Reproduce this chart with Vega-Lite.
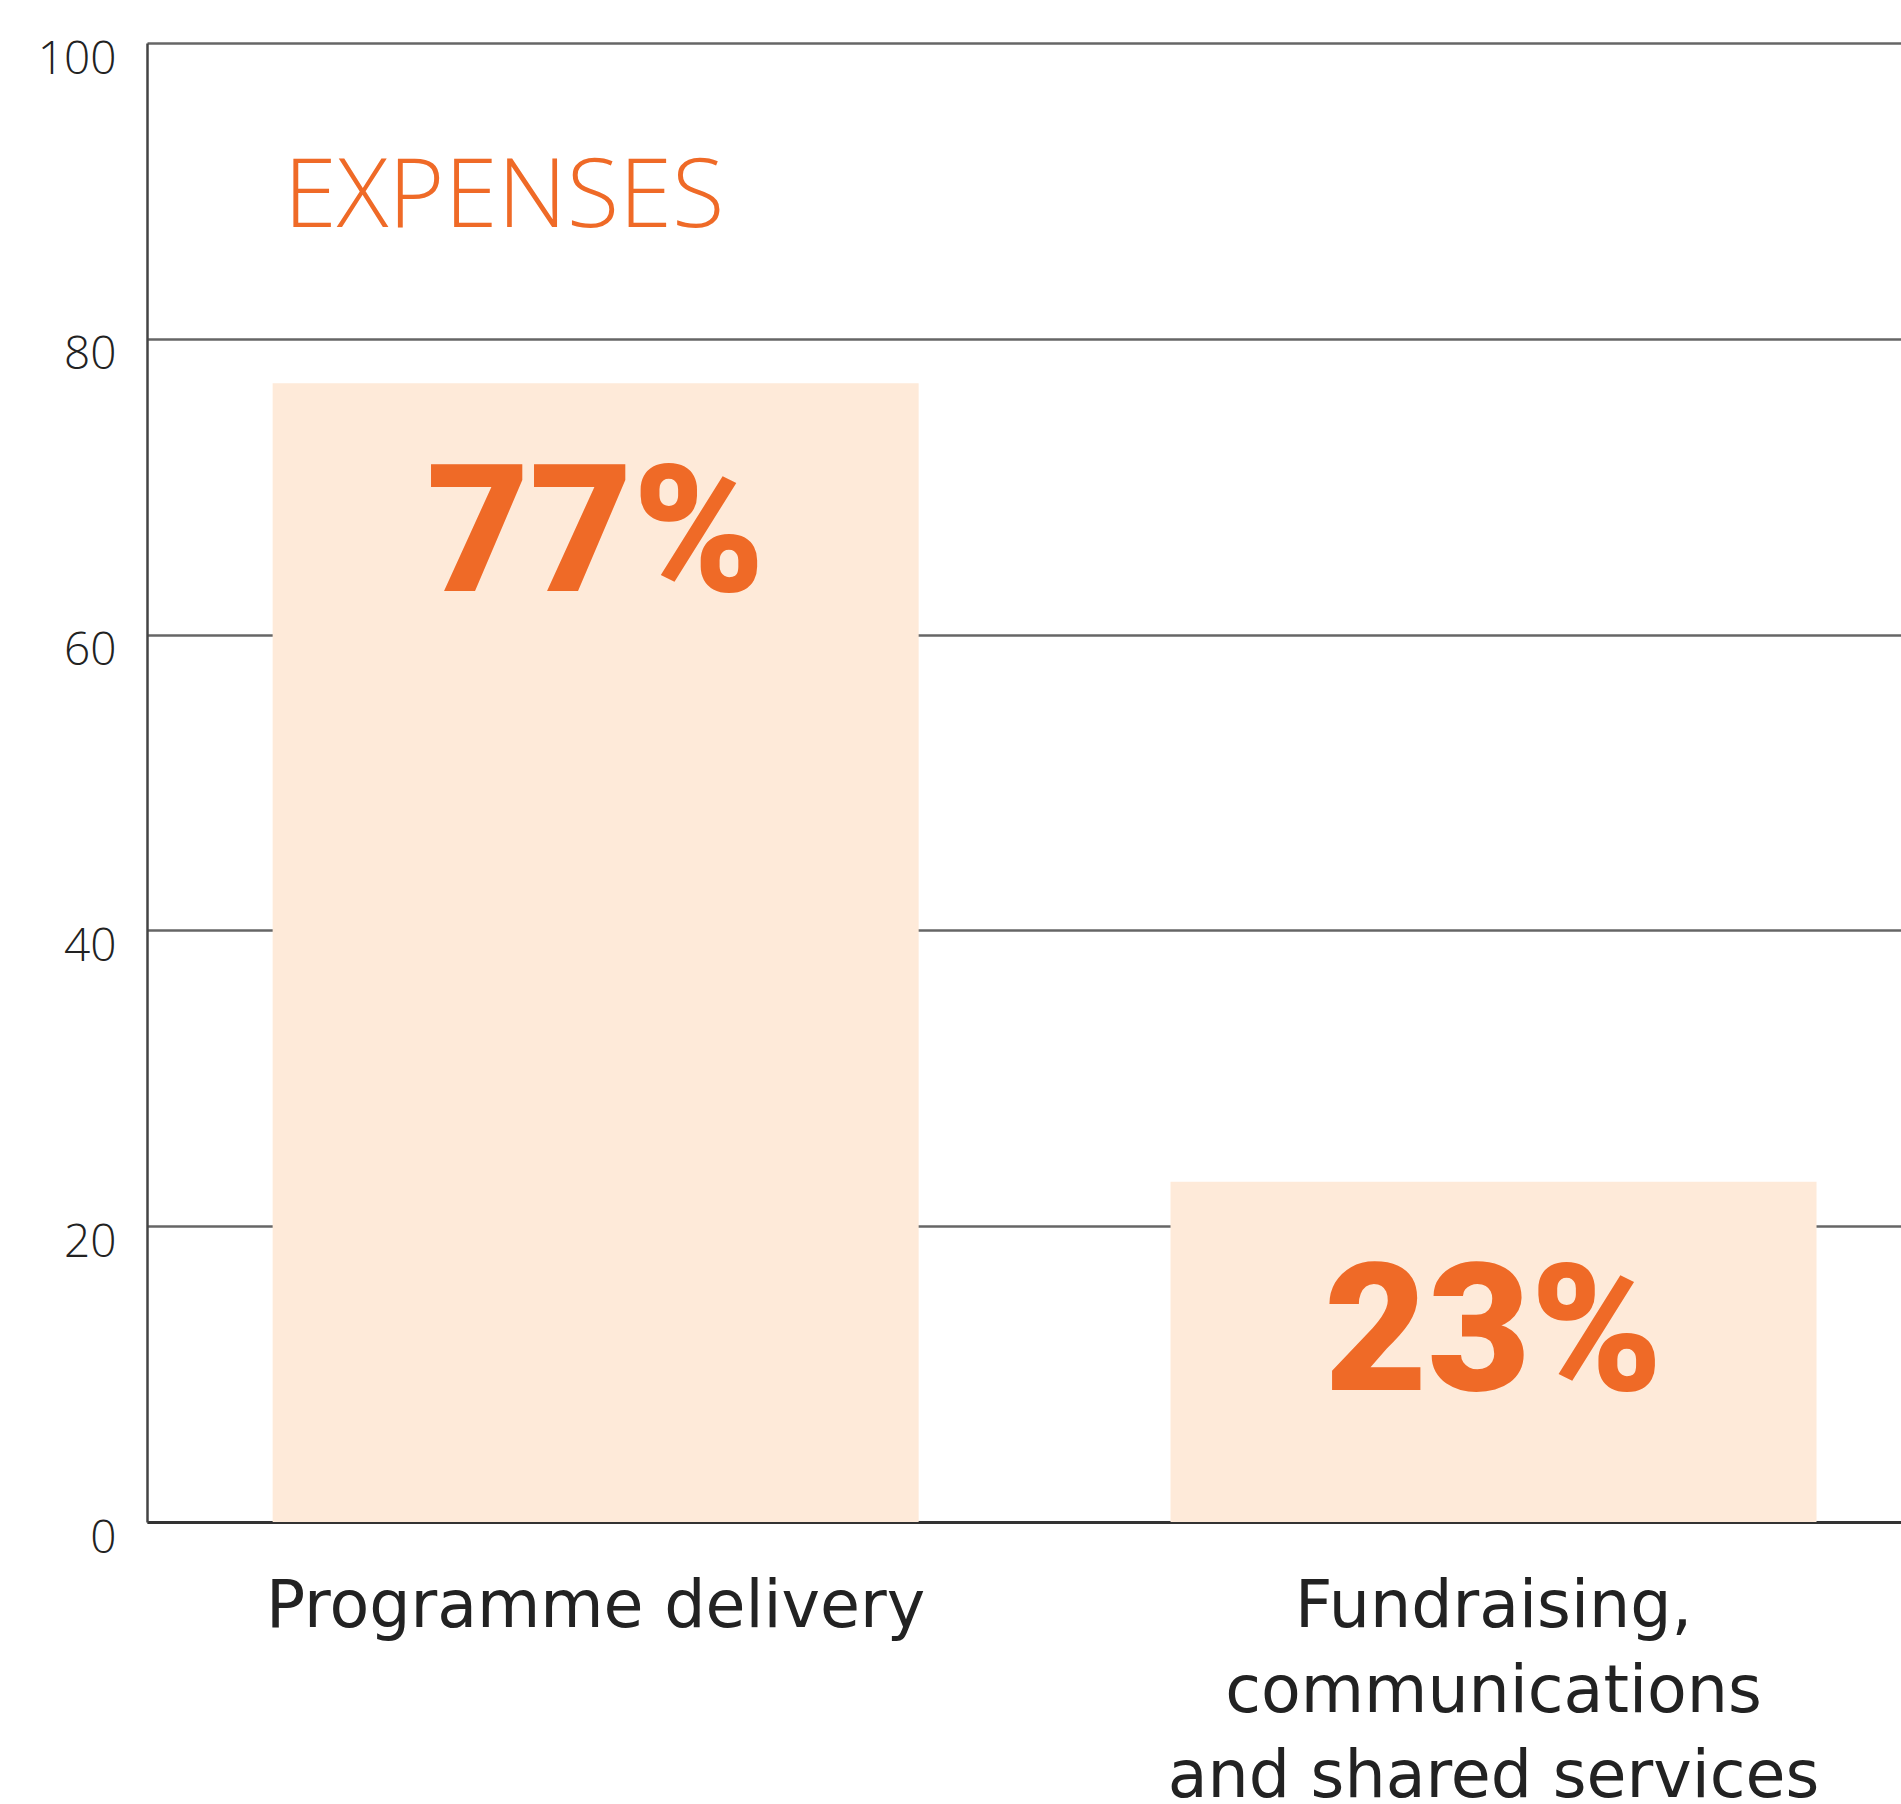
{
  "$schema": "https://vega.github.io/schema/vega-lite/v6.json",
  "width": 1754,
  "height": 1479,
  "autosize": {"type": "none"},
  "padding": {"left": 147, "top": 43, "right": 0, "bottom": 282},
  "background": "white",
  "config": {"view": {"stroke": null}, "font": "Open Sans"},
  "data": {
    "values": [
      {"category": "Programme delivery", "value": 77, "label": "77%"},
      {"category": "Fundraising, communications and shared services", "value": 23, "label": "23%"}
    ]
  },
  "layer": [
    {
      "mark": {"type": "bar", "color": "#FEEAD9"},
      "encoding": {
        "x": {
          "field": "category",
          "type": "nominal",
          "sort": null,
          "scale": {"paddingInner": 0.2805, "paddingOuter": 0.117, "align": 0.598},
          "axis": {
            "title": null,
            "labelAngle": 0,
            "ticks": false,
            "domain": true,
            "domainColor": "#333333",
            "domainWidth": 3,
            "labelFont": "DejaVu Sans",
            "labelFontSize": 65,
            "labelColor": "#222222",
            "labelPadding": 104,
            "labelBaseline": "alphabetic",
            "labelLineHeight": 85,
            "labelLimit": 0,
            "labelExpr": "datum.value == 'Programme delivery' ? datum.label : ['Fundraising,', 'communications', 'and shared services']"
          }
        },
        "y": {
          "field": "value",
          "type": "quantitative",
          "scale": {"domain": [0, 100]},
          "axis": {
            "title": null,
            "values": [0, 20, 40, 60, 80, 100],
            "ticks": false,
            "domainColor": "#444444",
            "domainWidth": 2.5,
            "gridColor": "#666666",
            "gridWidth": 2.5,
            "gridOpacity": 1,
            "labelFont": "Open Sans",
            "labelFontSize": 46,
            "labelFontWeight": 300,
            "labelColor": "#222222",
            "labelPadding": 31,
            "labelOffset": 16
          }
        }
      }
    },
    {
      "mark": {"type": "text", "color": "#EF6A27", "font": "Roboto", "fontSize": 178, "fontWeight": 900, "baseline": "middle", "dy": 155},
      "encoding": {
        "x": {"field": "category", "type": "nominal", "sort": null},
        "y": {"field": "value", "type": "quantitative"},
        "text": {"field": "label"}
      }
    },
    {
      "data": {"values": [{"title": "EXPENSES"}]},
      "mark": {"type": "text", "color": "#EF6A27", "fontSize": 96, "fontWeight": 300, "align": "left", "baseline": "middle", "dx": 11},
      "encoding": {
        "x": {"datum": "Programme delivery", "type": "nominal", "bandPosition": 0},
        "y": {"datum": 89.5, "type": "quantitative"},
        "text": {"field": "title"}
      }
    }
  ]
}
